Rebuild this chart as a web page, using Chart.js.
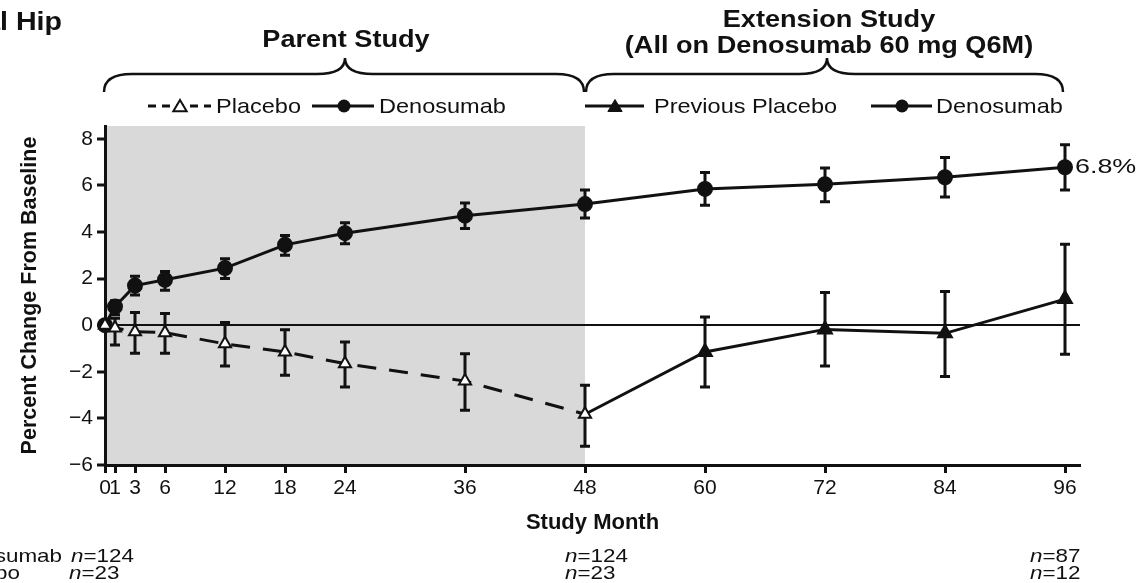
<!DOCTYPE html>
<html>
<head>
<meta charset="utf-8">
<script src="https://cdn.jsdelivr.net/npm/chart.js@4.4.1/dist/chart.umd.min.js"></script>
<style>
  body { margin: 0; background: #fff; }
</style>
</head>
<body>
<canvas id="hipChart" width="1138" height="583"></canvas>
<script>
// ticks on the month axis
const monthTicks = [0, 1, 3, 6, 12, 18, 24, 36, 48, 60, 72, 84, 96];
const yTicks = [-6, -4, -2, 0, 2, 4, 6, 8];

// Denosumab (parent + extension)
const denoMonths = [0, 1, 3, 6, 12, 18, 24, 36, 48, 60, 72, 84, 96];
const denoMean = [0, 0.8, 1.7, 1.95, 2.45, 3.45, 3.95, 4.7, 5.2, 5.85, 6.05, 6.35, 6.78];
const denoLow = [null, 0.45, 1.3, 1.5, 2.0, 3.0, 3.5, 4.15, 4.6, 5.15, 5.3, 5.5, 5.8];
const denoHigh = [null, 1.05, 2.1, 2.3, 2.85, 3.85, 4.4, 5.25, 5.8, 6.55, 6.75, 7.2, 7.75];

// Placebo (parent study)
const placeboMonths = [0, 1, 3, 6, 12, 18, 24, 36, 48];
const placeboMean = [0, -0.12, -0.28, -0.32, -0.8, -1.15, -1.65, -2.4, -3.82];
const placeboLow = [null, -0.85, -1.2, -1.2, -1.75, -2.15, -2.65, -3.65, -5.2];
const placeboHigh = [null, 0.3, 0.55, 0.5, 0.12, -0.2, -0.72, -1.22, -2.58];

// Previous placebo (extension study)
const prevMonths = [48, 60, 72, 84, 96];
const prevMean = [-3.82, -1.15, -0.18, -0.35, 1.12];
const prevLow = [null, -2.65, -1.75, -2.2, -1.25];
const prevHigh = [null, 0.35, 1.4, 1.45, 3.48];

const FONT = '"Liberation Sans", Arial, Helvetica, sans-serif';

function pts(xs, ys) {
    return xs.map((m, i) => ({ x: m, y: ys[i] }));
}

function drawBars(ctx, x, y, xs, lows, highs) {
    for (let i = 0; i < xs.length; i++) {
        if (lows[i] === null) continue;
        const px = x.getPixelForValue(xs[i]);
        const p1 = y.getPixelForValue(lows[i]);
        const p2 = y.getPixelForValue(highs[i]);
        ctx.beginPath();
        ctx.moveTo(px, p1); ctx.lineTo(px, p2);
        ctx.moveTo(px - 5, p1); ctx.lineTo(px + 5, p1);
        ctx.moveTo(px - 5, p2); ctx.lineTo(px + 5, p2);
        ctx.stroke();
    }
}

function brace(ctx, x1, x2, xm, yb, yh, yt) {
    const r = 28;
    ctx.beginPath();
    ctx.moveTo(x1, yb);
    ctx.quadraticCurveTo(x1, yh, x1 + r, yh);
    ctx.lineTo(xm - r, yh);
    ctx.quadraticCurveTo(xm, yh, xm, yt);
    ctx.quadraticCurveTo(xm, yh, xm + r, yh);
    ctx.lineTo(x2 - r, yh);
    ctx.quadraticCurveTo(x2, yh, x2, yb);
    ctx.stroke();
}

function triangle(ctx, cx, cy, r, fill) {
    ctx.beginPath();
    ctx.moveTo(cx, cy - r);
    ctx.lineTo(cx + r * 0.95, cy + r * 0.6);
    ctx.lineTo(cx - r * 0.95, cy + r * 0.6);
    ctx.closePath();
    ctx.fillStyle = fill;
    ctx.fill();
    ctx.stroke();
}

// text drawn a little wider, like the source figure
function wideText(ctx, txt, x, y, sx, align) {
    ctx.save();
    ctx.translate(x, y);
    ctx.scale(sx, 1);
    ctx.textAlign = align;
    ctx.fillText(txt, 0, 0);
    ctx.restore();
}

function nText(ctx, x, y, rest) {
    const sx = 1.18;
    ctx.font = 'italic 19px ' + FONT;
    const w = ctx.measureText('n').width * sx;
    wideText(ctx, 'n', x, y, sx, 'left');
    ctx.font = '19px ' + FONT;
    wideText(ctx, rest, x + w, y, sx, 'left');
}

const decor = {
    id: 'decor',
    beforeDraw(chart) {
        const { ctx, chartArea: a, scales: { x } } = chart;
        const x0 = x.getPixelForValue(0);
        const x48 = x.getPixelForValue(48);
        ctx.save();
        ctx.fillStyle = '#d9d9d9';
        ctx.fillRect(x0, a.top, x48 - x0, a.bottom - a.top);
        ctx.restore();
    },
    beforeDatasetsDraw(chart) {
        const { ctx, scales: { x, y } } = chart;
        ctx.save();
        ctx.strokeStyle = '#111';
        ctx.lineWidth = 3;
        drawBars(ctx, x, y, denoMonths, denoLow, denoHigh);
        drawBars(ctx, x, y, placeboMonths, placeboLow, placeboHigh);
        drawBars(ctx, x, y, prevMonths, prevLow, prevHigh);
        ctx.restore();
    },
    afterDraw(chart) {
        const { ctx, scales: { x, y } } = chart;
        ctx.save();
        ctx.fillStyle = '#111';
        ctx.strokeStyle = '#111';
        ctx.textBaseline = 'middle';

        // cut-off panel title
        ctx.font = 'bold 26px ' + FONT;
        wideText(ctx, 'Total Hip', 62, 23, 1.1, 'right');

        // headings
        ctx.font = 'bold 24px ' + FONT;
        const cExt = x.getPixelForValue(72) + 4;
        wideText(ctx, 'Parent Study', x.getPixelForValue(24) + 1, 40, 1.13, 'center');
        wideText(ctx, 'Extension Study', cExt, 20, 1.13, 'center');
        wideText(ctx, '(All on Denosumab 60 mg Q6M)', cExt, 46, 1.13, 'center');

        // braces
        ctx.lineWidth = 2.5;
        brace(ctx, x.getPixelForValue(0) - 1, x.getPixelForValue(48) - 1, x.getPixelForValue(24), 92, 74, 58);
        brace(ctx, x.getPixelForValue(48) + 1, x.getPixelForValue(96) - 2, x.getPixelForValue(72) + 2, 92, 74, 58);

        // legend row
        const ly = 106;
        ctx.lineWidth = 3;
        ctx.setLineDash([8, 6]);
        ctx.beginPath();
        ctx.moveTo(148, ly); ctx.lineTo(211, ly);
        ctx.stroke();
        ctx.setLineDash([]);
        ctx.lineWidth = 2;
        triangle(ctx, 180, ly + 1, 7, '#fff');
        ctx.fillStyle = '#111';
        ctx.lineWidth = 3;
        ctx.beginPath();
        ctx.moveTo(312, ly); ctx.lineTo(374, ly);
        ctx.moveTo(585, ly); ctx.lineTo(644, ly);
        ctx.moveTo(871, ly); ctx.lineTo(932, ly);
        ctx.stroke();
        ctx.beginPath(); ctx.arc(344, ly, 6.5, 0, Math.PI * 2); ctx.fill();
        ctx.beginPath(); ctx.arc(902, ly, 6.5, 0, Math.PI * 2); ctx.fill();
        ctx.lineWidth = 1;
        triangle(ctx, 615, ly + 1, 7.5, '#111');
        ctx.fillStyle = '#111';
        ctx.font = '21px ' + FONT;
        wideText(ctx, 'Placebo', 216, ly + 1, 1.12, 'left');
        wideText(ctx, 'Denosumab', 379, ly + 1, 1.12, 'left');
        wideText(ctx, 'Previous Placebo', 654, ly + 1, 1.12, 'left');
        wideText(ctx, 'Denosumab', 936, ly + 1, 1.12, 'left');

        // end label
        ctx.font = '21px ' + FONT;
        wideText(ctx, '6.8%', x.getPixelForValue(96) + 10, y.getPixelForValue(6.78), 1.28, 'left');

        // patient counts
        ctx.font = '19px ' + FONT;
        wideText(ctx, 'Denosumab', 62, 557, 1.18, 'right');
        wideText(ctx, 'Placebo', 20, 574, 1.18, 'right');
        nText(ctx, 71, 557, '=124');
        nText(ctx, 69, 574, '=23');
        nText(ctx, 565, 557, '=124');
        nText(ctx, 565, 574, '=23');
        nText(ctx, 1030, 557, '=87');
        nText(ctx, 1030, 574, '=12');
        ctx.restore();
    }
};

new Chart(document.getElementById('hipChart'), {
    type: 'line',
    data: {
        datasets: [
            {
                label: 'Placebo',
                data: pts(placeboMonths, placeboMean),
                borderColor: '#111',
                borderWidth: 3,
                borderDash: [19, 13],
                pointStyle: 'triangle',
                pointRadius: 7,
                pointBackgroundColor: '#fff',
                pointBorderColor: '#111',
                pointBorderWidth: 2,
                clip: false,
                order: 0
            },
            {
                label: 'Denosumab',
                data: pts(denoMonths, denoMean),
                borderColor: '#111',
                borderWidth: 3,
                pointStyle: 'circle',
                pointRadius: 6.5,
                pointBackgroundColor: '#111',
                pointBorderColor: '#111',
                clip: false,
                order: 1
            },
            {
                label: 'Previous Placebo',
                data: pts(prevMonths, prevMean),
                borderColor: '#111',
                borderWidth: 3,
                pointStyle: 'triangle',
                pointRadius: [0, 7, 7, 7, 7],
                pointBackgroundColor: '#111',
                pointBorderColor: '#111',
                clip: false,
                order: 2
            }
        ]
    },
    options: {
        responsive: false,
        animation: false,
        layout: { padding: { top: 126, right: 58, bottom: 46, left: 0 } },
        plugins: {
            legend: { display: false },
            tooltip: { enabled: false }
        },
        scales: {
            x: {
                type: 'linear',
                min: 0,
                max: 97.5,
                afterFit: s => { s.height = 72; },
                afterBuildTicks: s => { s.ticks = monthTicks.map(v => ({ value: v })); },
                border: { color: '#111', width: 3 },
                grid: { drawOnChartArea: false, tickColor: '#111', tickWidth: 3, tickLength: 8 },
                ticks: {
                    autoSkip: false,
                    maxRotation: 0,
                    color: '#111',
                    padding: 3,
                    font: { family: FONT, size: 21 }
                },
                title: {
                    display: true,
                    text: 'Study Month',
                    color: '#111',
                    font: { family: FONT, size: 22, weight: 'bold' },
                    padding: { top: 0, bottom: 1 }
                }
            },
            y: {
                min: -6,
                max: 8.55,
                afterFit: s => { s.width = 105; },
                afterBuildTicks: s => { s.ticks = yTicks.map(v => ({ value: v })); },
                border: { color: '#111', width: 3 },
                grid: {
                    color: c => (c.tick && c.tick.value === 0 ? '#111' : 'rgba(0,0,0,0)'),
                    lineWidth: 2,
                    tickColor: '#111',
                    tickWidth: 3,
                    tickLength: 8
                },
                ticks: {
                    color: '#111',
                    padding: 4,
                    font: { family: FONT, size: 21 },
                    callback: v => (v < 0 ? '\u2212' + Math.abs(v) : String(v))
                },
                title: {
                    display: true,
                    text: 'Percent Change From Baseline',
                    color: '#111',
                    font: { family: FONT, size: 21.5, weight: 'bold' },
                    padding: { top: 17, bottom: 0 }
                }
            }
        }
    },
    plugins: [decor]
});
</script>
</body>
</html>
